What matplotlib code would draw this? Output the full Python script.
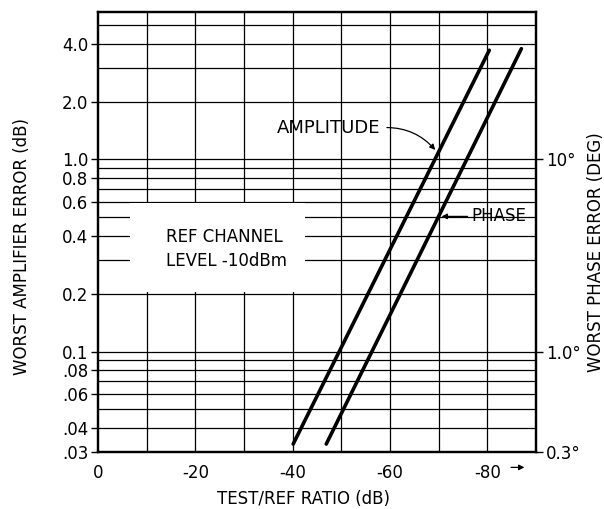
import matplotlib
matplotlib.use("Agg")
import matplotlib.pyplot as plt
from matplotlib.patches import Rectangle

plt.rcParams["font.family"] = ["DejaVu Sans"]

# data
ratio_amp = [-40.1, -80.4]          # TEST/REF ratio (dB)
amp_err_db = [0.033, 3.7]           # worst amplifier error (dB)
ratio_phase = [-46.9, -87.0]
phase_err_deg = [0.33, 37.7]        # worst phase error (deg)

x_ticks = [0, -20, -40, -60, -80]
x_labels = ["0", "-20", "-40", "-60", "-80"]
x_grid = [-10, -20, -30, -40, -50, -60, -70, -80]
y_ticks = [0.03, 0.04, 0.06, 0.08, 0.1, 0.2, 0.4, 0.6, 0.8, 1.0, 2.0, 4.0]
y_labels = [".03", ".04", ".06", ".08", "0.1", "0.2", "0.4", "0.6", "0.8", "1.0", "2.0", "4.0"]
y_grid = [0.04, 0.05, 0.06, 0.07, 0.08, 0.09, 0.1, 0.2, 0.3, 0.4, 0.5, 0.6,
          0.7, 0.8, 0.9, 1.0, 2.0, 3.0, 4.0, 5.0]
phase_ticks = [0.3, 1.0, 10.0]
phase_labels = ["0.3°", "1.0°", "10°"]

fig = plt.figure(figsize=(6.04, 5.09), dpi=100)
ax = fig.add_axes([0.1623, 0.112, 0.7251, 0.8644])
ax.set_yscale("log")
ax.set_xlim(0, -90)
ax.set_ylim(0.03, 5.85)

for g in x_grid:
    ax.axvline(g, color="black", lw=0.9, zorder=1)
for g in y_grid:
    ax.axhline(g, color="black", lw=0.9, zorder=1)

# blank area behind the note
ax.add_patch(Rectangle((-6.5, 0.205), -36, 0.385, facecolor="white",
                       edgecolor="none", zorder=2))

ax.plot(ratio_amp, amp_err_db, color="black", lw=2.6, solid_capstyle="round", zorder=4)
ax.plot(ratio_phase, [p / 10 for p in phase_err_deg], color="black",
        lw=2.6, solid_capstyle="round", zorder=4)

ax.set_xticks(x_ticks)
ax.set_xticklabels(x_labels)
ax.set_yticks(y_ticks)
ax.set_yticklabels(y_labels)
ax.minorticks_off()
ax.tick_params(labelsize=12, length=5, width=1, direction="out", pad=2)
ax.tick_params(axis="x", length=0, pad=9)

for s in ax.spines.values():
    s.set_linewidth(1.6)

ax2 = ax.twinx()
ax2.set_yscale("log")
lo, hi = ax.get_ylim()
ax2.set_ylim(lo * 10, hi * 10)
ax2.set_yticks(phase_ticks)
ax2.set_yticklabels(phase_labels)
ax2.minorticks_off()
ax2.tick_params(labelsize=12, length=5, width=1, direction="out", pad=2)
for s in ax2.spines.values():
    s.set_linewidth(1.6)

ax.set_xlabel("TEST/REF RATIO (dB)", fontsize=12)
ax.xaxis.set_label_coords(0.47, -0.087)
ax.set_ylabel("WORST AMPLIFIER ERROR (dB)", fontsize=12)
ax.yaxis.set_label_coords(-0.153, 0.468)
ax2.set_ylabel("WORST PHASE ERROR (DEG)", fontsize=12, rotation=90)
ax2.yaxis.set_label_coords(1.117, 0.455)

ax.text(-14.0, 0.342, "REF CHANNEL\nLEVEL -10dBm", fontsize=12, ha="left",
        va="center", linespacing=1.45, zorder=5)

ax.annotate("AMPLITUDE", xy=(-69.3, 1.12), xytext=(-47.3, 1.46), fontsize=13,
            ha="center", va="center", zorder=5,
            arrowprops=dict(arrowstyle="-|>", color="black", lw=0.9,
                            connectionstyle="arc3,rad=-0.25", relpos=(1, 0.5),
                            shrinkA=3, shrinkB=0, mutation_scale=8))
ax.annotate("PHASE", xy=(-70.6, 0.505), xytext=(-76.8, 0.505), fontsize=12,
            ha="left", va="center", zorder=5,
            arrowprops=dict(arrowstyle="-|>", color="black", lw=0.9, relpos=(0, 0.5),
                            shrinkA=1, shrinkB=0, mutation_scale=8))

# arrow after the -80 label
ax.annotate("", xy=(-88.2, -0.035), xytext=(-84.3, -0.035),
            xycoords=("data", "axes fraction"), textcoords=("data", "axes fraction"),
            arrowprops=dict(arrowstyle="-|>", color="black", lw=0.9, mutation_scale=8))

fig.savefig("out.png", dpi=100)
